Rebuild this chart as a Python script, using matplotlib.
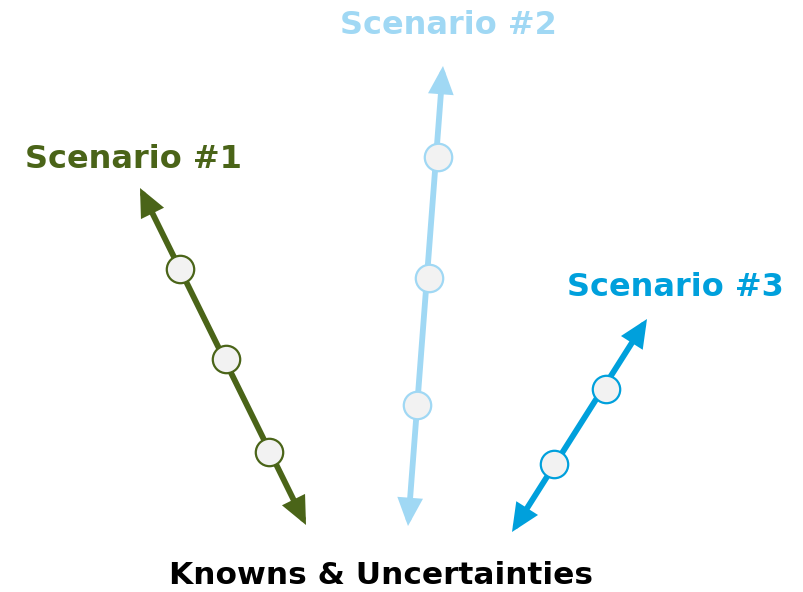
import matplotlib
matplotlib.use("Agg")
import matplotlib.pyplot as plt
from matplotlib.patches import FancyArrowPatch

scenarios = ["Scenario #1", "Scenario #2", "Scenario #3"]
colors = ["#4a6418", "#a0d8f4", "#00a0dc"]
arrow_start = [(140, 188), (443, 66), (647, 319)]
arrow_end = [(306, 525), (408, 526), (512, 532)]
circles_x = [[180, 226, 269], [438, 429, 417], [606, 554]]
circles_y = [[269, 359, 452], [157, 278, 405], [389, 464]]
label_pos = [(134, 159), (448, 25), (675, 288)]
bottom_label = "Knowns & Uncertainties"
bottom_pos = (381, 576)

fig = plt.figure(figsize=(8.04, 5.92), dpi=100)
ax = fig.add_axes([0, 0, 1, 1])
ax.set_xlim(0, 804)
ax.set_ylim(592, 0)
ax.axis("off")

for name, c, s, e, cx, cy, lp in zip(scenarios, colors, arrow_start, arrow_end,
                                     circles_x, circles_y, label_pos):
    arr = FancyArrowPatch(s, e, arrowstyle="<|-|>,head_length=1.1,head_width=0.5",
                          mutation_scale=12, color=c, lw=4.2, shrinkA=0, shrinkB=0,
                          joinstyle="miter", zorder=2)
    ax.add_patch(arr)
    ax.scatter(cx, cy, s=390, facecolor="#f2f2f2", edgecolor=c, linewidths=1.6, zorder=3)
    ax.text(lp[0], lp[1], name, color=c, fontsize=23, fontweight="bold",
            ha="center", va="center", family="DejaVu Sans")

ax.text(bottom_pos[0], bottom_pos[1], bottom_label, color="black", fontsize=22.5,
        fontweight="bold", ha="center", va="center", family="DejaVu Sans")

fig.savefig("out.png", dpi=100)
